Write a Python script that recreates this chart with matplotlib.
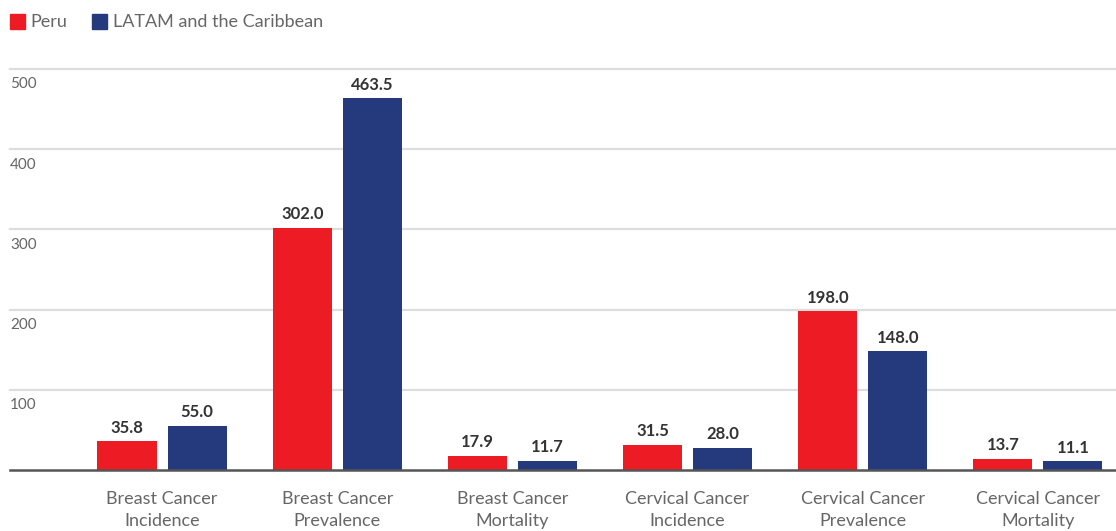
import matplotlib
matplotlib.use("Agg")
import matplotlib.pyplot as plt
from matplotlib.patches import Rectangle
import numpy as np

categories = ["Breast Cancer\nIncidence", "Breast Cancer\nPrevalence", "Breast Cancer\nMortality",
              "Cervical Cancer\nIncidence", "Cervical Cancer\nPrevalence", "Cervical Cancer\nMortality"]
peru = [35.8, 302.0, 17.9, 31.5, 198.0, 13.7]
latam = [55.0, 463.5, 11.7, 28.0, 148.0, 11.1]
series_names = ["Peru", "LATAM and the Caribbean"]
yticks = [100, 200, 300, 400, 500]

RED = "#ED1C24"
BLUE = "#253A7D"
FONT = "Lato"

W, H = 1116, 531
fig = plt.figure(figsize=(W / 100, H / 100), dpi=100)
ax_left, ax_right, ax_bottom, ax_top = 10, 1116, 470, 69
ax = fig.add_axes([ax_left / W, 1 - ax_bottom / H, (ax_right - ax_left) / W, (ax_bottom - ax_top) / H])

x = np.arange(len(categories))
bw = 0.337
off = 0.2
b1 = ax.bar(x - off, peru, bw, color=RED, zorder=3)
b2 = ax.bar(x + off, latam, bw, color=BLUE, zorder=3)

for bars, vals in ((b1, peru), (b2, latam)):
    for r, v in zip(bars, vals):
        ax.annotate(f"{v:.1f}", (r.get_x() + r.get_width() / 2, v), xytext=(0, 4),
                    textcoords="offset points", ha="center", va="bottom",
                    fontsize=12, fontweight="bold", color="#333333", family=FONT, zorder=4)

ax.set_xlim(-0.868, 5.446)
ax.set_ylim(0, 500)
ax.set_yticks([])
ax.set_xticks(x)
ax.set_xticklabels(categories, fontsize=13, color="#666666", family=FONT, linespacing=1.45)
ax.tick_params(axis="x", length=0, pad=15)

for t in yticks:
    ax.axhline(t, color="#dddddd", lw=1.6, zorder=1, clip_on=False)
    ax.annotate(str(t), (0, t), xycoords=("axes fraction", "data"), xytext=(0, -6),
                textcoords="offset points", ha="left", va="top", fontsize=11,
                color="#666666", family=FONT)

for s in ["top", "right", "left"]:
    ax.spines[s].set_visible(False)
ax.spines["bottom"].set_color("#555555")
ax.spines["bottom"].set_linewidth(1.8)
ax.spines["bottom"].set_zorder(5)

# legend
def px(xp, yp):
    return xp / W, 1 - yp / H

for (x0, name, col, tx) in ((10, series_names[0], RED, 30), (92, series_names[1], BLUE, 113)):
    fx, fy = px(x0, 29)
    fig.patches.append(Rectangle((fx, fy), 15 / W, 15 / H, transform=fig.transFigure,
                                 color=col, figure=fig))
    tx_, ty_ = px(tx, 22)
    fig.text(tx_, ty_, name, ha="left", va="center", fontsize=13, color="#666666", family=FONT)

fig.savefig("out.png", dpi=100)
